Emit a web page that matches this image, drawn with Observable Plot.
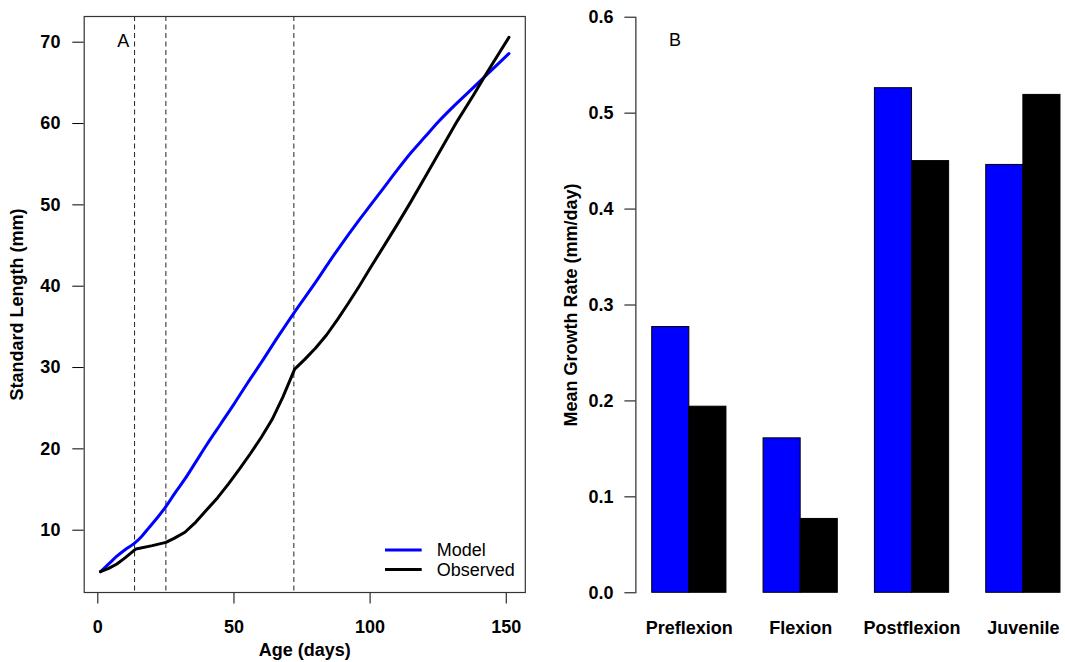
<!DOCTYPE html>
<html>
<head>
<meta charset="utf-8">
<script src="https://cdn.jsdelivr.net/npm/d3@7"></script>
<script src="https://cdn.jsdelivr.net/npm/@observablehq/plot@0.6"></script>
<style>
  body { margin: 0; background: #fff; }
  #wrap { position: relative; width: 1065px; height: 662px; overflow: hidden; background: #fff;
          font-family: "Liberation Sans", Arial, sans-serif; color: #000; }
  #panelA, #panelB, #legendA { position: absolute; top: 0; }
  #panelA { left: 0; width: 540px; }
  #panelB { left: 540px; width: 537px; }
  #wrap svg { max-width: none !important; }
  #wrap svg [aria-label$="tick label"] text,
  #wrap svg [aria-label$="axis label"] text { font-weight: bold; }
  #legendA { left: 380px; top: 538px; }
</style>
</head>
<body>
<div id="wrap">
  <div id="panelA"></div>
  <div id="panelB"></div>
  <svg id="legendA" width="150" height="44" font-family="Liberation Sans, Arial, sans-serif" font-size="18"></svg>
</div>
<script>
// ---------- Data ----------
// Panel A: standard length (mm) vs age (days)
const modelAge = [1, 4, 7, 10, 13.5, 16, 19, 22, 25, 28, 32, 36, 40, 45, 50, 55, 60, 66, 72, 80, 85, 90, 95, 100, 105, 110, 115, 120, 125, 130, 135, 140, 145, 151];
const modelSL  = [4.9, 5.85, 6.8, 7.6, 8.4, 9.2, 10.4, 11.6, 12.9, 14.4, 16.3, 18.4, 20.5, 23.0, 25.5, 28.1, 30.6, 33.7, 36.7, 40.5, 43.0, 45.4, 47.7, 49.9, 52.1, 54.3, 56.4, 58.3, 60.2, 61.9, 63.5, 65.1, 66.7, 68.6];
const obsAge = [1, 4, 7, 10, 14, 20, 25, 28, 32, 36, 40, 44, 48, 52, 56, 60, 64, 68, 72.3, 76, 80, 84, 88, 92, 96, 100, 105, 110, 115, 120, 126, 132, 138, 143, 151];
const obsSL  = [4.9, 5.3, 5.85, 6.6, 7.7, 8.1, 8.5, 9.0, 9.75, 11.0, 12.5, 14.0, 15.7, 17.5, 19.4, 21.4, 23.6, 26.4, 29.8, 31.0, 32.4, 34.0, 35.9, 37.9, 40.0, 42.2, 44.9, 47.6, 50.4, 53.3, 56.8, 60.3, 63.5, 66.3, 70.6];
const stageBreaks = [13.5, 25, 72];
const xTicksA = [0, 50, 100, 150];
const yTicksA = [10, 20, 30, 40, 50, 60, 70];
const seriesNames = ["Model", "Observed"];
const seriesColors = ["#0000ff", "#000000"];

// Panel B: mean growth rate (mm/day) per stage
const stages = ["Preflexion", "Flexion", "Postflexion", "Juvenile"];
const modelRate    = [0.277, 0.161, 0.526, 0.446];
const observedRate = [0.194, 0.077, 0.450, 0.519];
const yTicksB = [0, 0.1, 0.2, 0.3, 0.4, 0.5, 0.6];

// ---------- Tables built from the arrays ----------
const modelRows = modelAge.map((a, i) => ({age: a, sl: modelSL[i]}));
const obsRows = obsAge.map((a, i) => ({age: a, sl: obsSL[i]}));
const rateRows = stages.map((s, i) => ({stage: s, model: modelRate[i], observed: observedRate[i]}));

const FONT = "Liberation Sans, Arial, sans-serif";

// ---------- Panel A ----------
const plotA = Plot.plot({
  width: 540,
  height: 662,
  marginLeft: 83.7,
  marginRight: 15.2,
  marginTop: 16,
  marginBottom: 70,
  style: {fontFamily: FONT, fontSize: "18px", color: "#000", background: "transparent", overflow: "visible"},
  x: {domain: [-5, 157], ticks: xTicksA, tickSize: 11.5, tickPadding: 16.5,
      label: "Age (days)", labelAnchor: "center", labelOffset: 63, labelArrow: "none"},
  y: {domain: [2.34, 73.16], ticks: yTicksA, tickSize: 11.4, tickPadding: 12.4,
      label: "Standard Length (mm)", labelAnchor: "center", labelOffset: 74, labelArrow: "none"},
  marks: [
    Plot.ruleX(stageBreaks, {stroke: "#222", strokeWidth: 1, strokeDasharray: "5,3.5"}),
    Plot.line(modelRows, {x: "age", y: "sl", stroke: seriesColors[0], strokeWidth: 3, curve: "monotone-x"}),
    Plot.line(obsRows, {x: "age", y: "sl", stroke: seriesColors[1], strokeWidth: 3}),
    Plot.frame({stroke: "#333", strokeWidth: 1.2}),
    Plot.text(["A"], {frameAnchor: "top-left", textAnchor: "middle", lineAnchor: "middle", dx: 39, dy: 24.5, fontSize: 18})
  ]
});
document.getElementById("panelA").appendChild(plotA);

// ---------- Panel B ----------
const widthB = 537, mLB = 95.4, mRB = 0.7;
const padIn = 1 / 3, padOut = 0.1465;
const stepB = (widthB - mLB - mRB) / (stages.length - padIn + 2 * padOut);
const halfBand = stepB * (1 - padIn) / 2;

const plotB = Plot.plot({
  width: widthB,
  height: 662,
  marginLeft: mLB,
  marginRight: mRB,
  marginTop: 16.7,
  marginBottom: 69.7,
  style: {fontFamily: FONT, fontSize: "18px", color: "#000", background: "transparent", overflow: "visible"},
  x: {domain: stages, paddingInner: padIn, paddingOuter: padOut, round: false,
      tickSize: 0, tickPadding: 28.4, label: null},
  y: {domain: [0, 0.6], ticks: yTicksB, tickFormat: d3.format(".1f"), tickSize: 11, tickPadding: 11.4,
      line: true, label: "Mean Growth Rate (mm/day)", labelAnchor: "center", labelOffset: 72, labelArrow: "none"},
  marks: [
    Plot.barY(rateRows, {x: "stage", y: "model", fill: seriesColors[0], stroke: "#000", strokeWidth: 1, insetRight: halfBand}),
    Plot.barY(rateRows, {x: "stage", y: "observed", fill: seriesColors[1], stroke: "#000", strokeWidth: 1, insetLeft: halfBand}),
    Plot.text(["B"], {frameAnchor: "top-left", textAnchor: "middle", lineAnchor: "middle", dx: 39, dy: 23.5, fontSize: 18})
  ]
});
document.getElementById("panelB").appendChild(plotB);

// ---------- Legend for panel A ----------
const legend = d3.select("#legendA");
seriesNames.forEach((name, i) => {
  const y = 12 + i * 19.5;
  legend.append("line").attr("x1", 5).attr("x2", 41.7).attr("y1", y).attr("y2", y)
    .attr("stroke", seriesColors[i]).attr("stroke-width", 3);
  legend.append("text").attr("x", 56.7).attr("y", y).attr("dy", "0.34em")
    .attr("fill", "#000").text(name);
});
</script>
</body>
</html>
